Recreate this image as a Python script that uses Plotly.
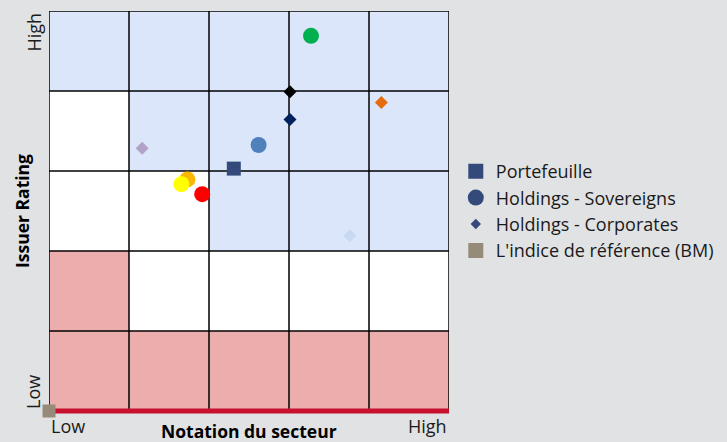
import plotly.graph_objects as go

# ---- data ----
zone_rows = [  # bottom row first, columns Low -> High sector rating
    ["R", "R", "R", "R", "R"],
    ["R", "W", "W", "W", "W"],
    ["W", "W", "B", "B", "B"],
    ["W", "B", "B", "B", "B"],
    ["B", "B", "B", "B", "B"],
]
zone_colors = {"R": "#ecadad", "W": "#ffffff", "B": "#dce6fa"}

portf_x = [2.31]
portf_y = [3.03]

sov_x = [3.275, 2.62, 1.73, 1.655, 1.915]
sov_y = [4.69, 3.325, 2.895, 2.835, 2.71]
sov_colors = ["#00b050", "#4f81bd", "#fbb800", "#ffff00", "#ff0000"]

corp_x = [3.0125, 3.0125, 4.155, 1.165, 3.76]
corp_y = [3.99, 3.645, 3.855, 3.285, 2.19]
corp_colors = ["#000000", "#002060", "#e46c0a", "#b3a2c7", "#c6d9f1"]

bm_x = [0]
bm_y = [0]

legend_names = ["Portefeuille", "Holdings - Sovereigns", "Holdings - Corporates",
                "L'indice de référence (BM)"]
x_tick_text = ["Low", "High"]
y_tick_text = ["Low", "High"]
x_title = "Notation du secteur"
y_title = "Issuer Rating"

NAVY = "#344a7a"
BM_COLOR = "#968b78"
RED_LINE = "#c8102e"
FONT = "Open Sans, Liberation Sans, Arial, sans-serif"

n_rows = len(zone_rows)
n_cols = len(zone_rows[0])

fig = go.Figure()

# legend-only entries
fig.add_trace(go.Scatter(x=[None], y=[None], mode="markers", name=legend_names[0],
                         marker=dict(symbol="square", size=15, color=NAVY)))
fig.add_trace(go.Scatter(x=[None], y=[None], mode="markers", name=legend_names[1],
                         marker=dict(symbol="circle", size=16, color=NAVY)))
fig.add_trace(go.Scatter(x=[None], y=[None], mode="markers", name=legend_names[2],
                         marker=dict(symbol="diamond", size=8, color=NAVY)))
fig.add_trace(go.Scatter(x=[None], y=[None], mode="markers", name=legend_names[3],
                         marker=dict(symbol="square", size=15, color=BM_COLOR)))

# actual points
fig.add_trace(go.Scatter(x=sov_x, y=sov_y, mode="markers", showlegend=False,
                         marker=dict(symbol="circle", size=16, color=sov_colors)))
fig.add_trace(go.Scatter(x=corp_x, y=corp_y, mode="markers", showlegend=False,
                         marker=dict(symbol="diamond", size=10, color=corp_colors)))
fig.add_trace(go.Scatter(x=portf_x, y=portf_y, mode="markers", showlegend=False,
                         marker=dict(symbol="square", size=14, color=NAVY)))
fig.add_trace(go.Scatter(x=bm_x, y=bm_y, mode="markers", showlegend=False, cliponaxis=False,
                         marker=dict(symbol="square", size=13, color=BM_COLOR)))

shapes = []
# red baseline: lower half (outside plot, under everything) ...
shapes.append(dict(type="line", xref="paper", yref="paper", x0=0, x1=1, y0=0, y1=0,
                   line=dict(color=RED_LINE, width=5), layer="below"))
for r, row in enumerate(zone_rows):
    for c, z in enumerate(row):
        shapes.append(dict(type="rect", xref="x", yref="y", x0=c, x1=c + 1, y0=r, y1=r + 1,
                           fillcolor=zone_colors[z], line=dict(width=0), layer="below"))
for i in range(n_cols + 1):
    shapes.append(dict(type="line", xref="x", yref="y", x0=i, x1=i, y0=0, y1=n_rows,
                       line=dict(color="black", width=1.5), layer="between"))
for j in range(1, n_rows + 1):
    shapes.append(dict(type="line", xref="x", yref="y", x0=0, x1=n_cols, y0=j, y1=j,
                       line=dict(color="black", width=1.5), layer="between"))
# ... and upper half (inside plot, above grid, below markers)
shapes.append(dict(type="line", xref="x", yref="y", x0=0, x1=n_cols, y0=0, y1=0,
                   line=dict(color=RED_LINE, width=5), layer="between"))

tick_font = dict(family=FONT, size=18, color="#1a1a1a")
title_font = dict(family=FONT, size=17.5, color="#000000")
annotations = [
    dict(x=0, y=0, xref="x", yref="y", text=x_tick_text[0], showarrow=False,
         xanchor="left", yanchor="top", yshift=-1, font=tick_font),
    dict(x=n_cols, y=0, xref="x", yref="y", text=x_tick_text[1], showarrow=False,
         xanchor="right", yanchor="top", yshift=-1, font=tick_font),
    dict(x=0, y=0, xref="x", yref="y", text=y_tick_text[0], showarrow=False, textangle=-90,
         xanchor="right", yanchor="bottom", xshift=-2, font=tick_font),
    dict(x=0, y=n_rows, xref="x", yref="y", text=y_tick_text[1], showarrow=False, textangle=-90,
         xanchor="right", yanchor="top", xshift=-2, font=tick_font),
    dict(x=n_cols / 2, y=0, xref="x", yref="y", text="<b>" + x_title + "</b>", showarrow=False,
         xanchor="center", yanchor="top", yshift=-6, font=title_font),
    dict(x=0, y=n_rows / 2, xref="x", yref="y", text="<b>" + y_title + "</b>", showarrow=False,
         textangle=-90, xanchor="right", yanchor="middle", xshift=-13, font=title_font),
]

fig.update_layout(
    width=727, height=442,
    margin=dict(l=49, r=278, t=11, b=31, pad=0, autoexpand=False),
    paper_bgcolor="#e1e2e4", plot_bgcolor="#ffffff",
    shapes=shapes, annotations=annotations,
    font=dict(family=FONT, size=18, color="#1a1a1a"),
    legend=dict(x=1.017, xanchor="left", y=0.5, yanchor="middle",
                bgcolor="rgba(0,0,0,0)", font=dict(family=FONT, size=18, color="#1a1a1a"),
                itemsizing="trace"),
    xaxis=dict(range=[0, n_cols], showgrid=False, zeroline=False, showticklabels=False,
               showline=False, fixedrange=True),
    yaxis=dict(range=[0, n_rows], showgrid=False, zeroline=False, showticklabels=False,
               showline=False, fixedrange=True),
)

fig.write_html("out.html", config={"displayModeBar": False},
               post_script="document.body.style.margin='0px';document.body.style.overflow='hidden';")
